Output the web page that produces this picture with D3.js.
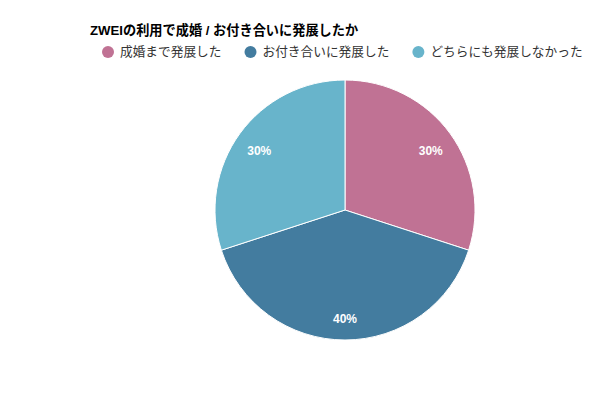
<!DOCTYPE html>
<html>
<head>
<meta charset="utf-8">
<script src="https://cdn.jsdelivr.net/npm/d3@7"></script>
<style>
  body { margin: 0; background: #fff; }
  text { font-family: "Liberation Sans", "Noto Sans CJK JP", sans-serif; }
</style>
</head>
<body>
<svg id="chart" width="600" height="400"></svg>
<script>
const title = "ZWEIの利用で成婚 / お付き合いに発展したか";
const categories = ["成婚まで発展した", "お付き合いに発展した", "どちらにも発展しなかった"];
const values = [30, 40, 30];
const colors = ["#c07294", "#437c9f", "#68b4cb"];

const svg = d3.select("#chart");
const cx = 345, cy = 210, radius = 130;

svg.append("text")
  .attr("x", 90)
  .attr("y", 35)
  .attr("font-size", 13.2)
  .attr("font-weight", "bold")
  .attr("fill", "#000")
  .text(title);

// legend, laid out left to right
const legend = svg.append("g").attr("transform", "translate(0,52)");
let lx = 108;
categories.forEach((c, i) => {
  const item = legend.append("g").attr("transform", `translate(${lx},0)`);
  item.append("circle").attr("r", 6).attr("fill", colors[i]);
  const t = item.append("text")
    .attr("x", 12)
    .attr("y", 0)
    .attr("dy", "0.35em")
    .attr("font-size", 12.7)
    .attr("fill", "#333")
    .text(c);
  lx += 12 + t.node().getComputedTextLength() + 29;
});

const pie = d3.pie().sort(null).value(d => d)(values);
const arc = d3.arc().innerRadius(0).outerRadius(radius);
const labelArc = d3.arc().innerRadius(106).outerRadius(106);

const g = svg.append("g").attr("transform", `translate(${cx},${cy})`);

g.selectAll("path")
  .data(pie)
  .enter().append("path")
  .attr("d", arc)
  .attr("fill", (d, i) => colors[i])
  .attr("stroke", "#fff")
  .attr("stroke-width", 1);

g.selectAll(".lbl")
  .data(pie)
  .enter().append("text")
  .attr("class", "lbl")
  .attr("transform", d => `translate(${labelArc.centroid(d)})`)
  .attr("text-anchor", "middle")
  .attr("dy", "0.6em")
  .attr("font-size", 12)
  .attr("font-weight", "bold")
  .attr("fill", "#fff")
  .text(d => d.data + "%");
</script>
</body>
</html>
